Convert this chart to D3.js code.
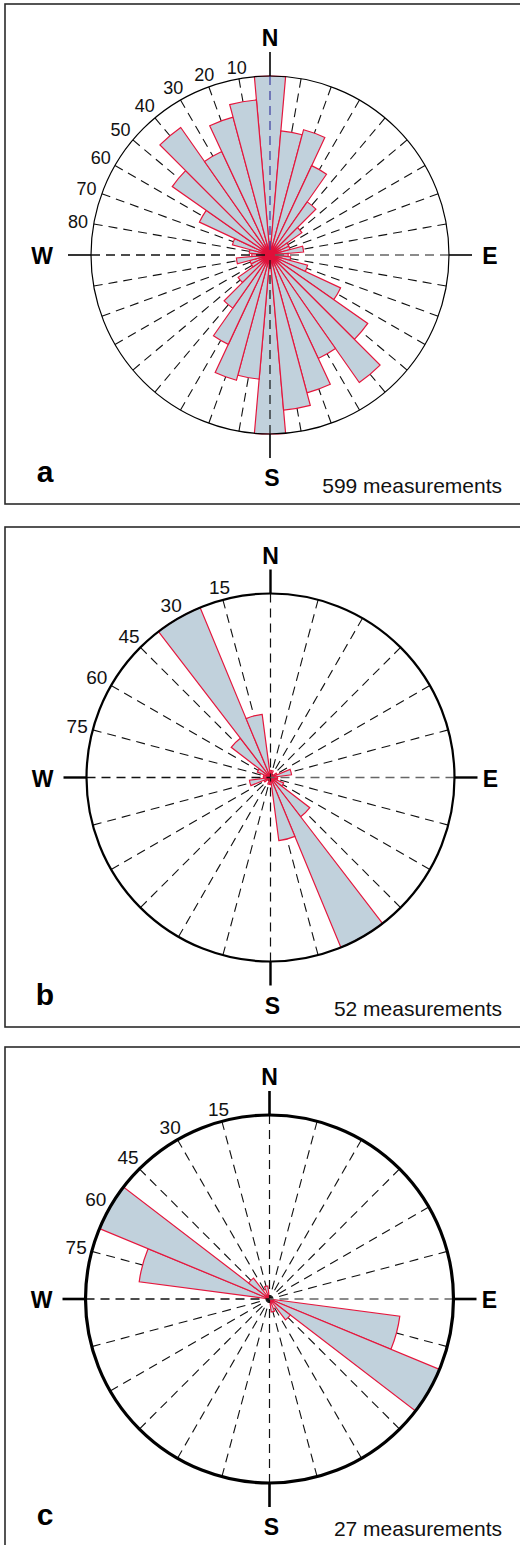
<!DOCTYPE html>
<html>
<head>
<meta charset="utf-8">
<script src="https://cdn.jsdelivr.net/npm/d3@7"></script>
<style>
  html, body { margin: 0; padding: 0; background: #fff; }
  svg { display: block; font-family: "Liberation Sans", Arial, sans-serif; }
</style>
</head>
<body>
<svg id="chart" width="520" height="1545"></svg>
<script>
// Bin centre azimuths (degrees, 0-180; each bin is also drawn at +180)
const dirA = [0, 10, 20, 30, 40, 50, 60, 70, 80, 90, 100, 110, 120, 130, 140, 150, 160, 170];
const countA = [69, 48, 50, 38, 25, 15, 8, 8, 13, 7, 8, 15, 30, 46, 60, 44, 55, 60];

const dirB = [0, 15, 30, 45, 60, 75, 90, 105, 120, 135, 150, 165];
const countB = [1, 1, 0, 0, 1, 3, 1, 1, 2, 7, 26, 9];

const dirC = [0, 15, 30, 45, 60, 75, 90, 105, 120, 135, 150, 165];
const countC = [0, 0, 0, 0, 0, 0, 0, 10, 14, 2, 0, 1];

// Labels along the NW quadrant of each rose
const ticksA = [10, 20, 30, 40, 50, 60, 70, 80];
const ticksB = [15, 30, 45, 60, 75];
const ticksC = [15, 30, 45, 60, 75];

const letters = ["a", "b", "c"];
const totals = ["599 measurements", "52 measurements", "27 measurements"];

const svg = d3.select("#chart");
const rad = Math.PI / 180;

// soft red hub where the dense petal outlines meet
const grad = svg.append("defs").append("radialGradient").attr("id", "hub");
grad.append("stop").attr("offset", "0.55").attr("stop-color", "#e0103a").attr("stop-opacity", 1);
grad.append("stop").attr("offset", "1").attr("stop-color", "#e0103a").attr("stop-opacity", 0);

const panels = [
  { dirs: dirA, counts: countA, ticks: ticksA, step: 10, top: 4,    cx: 270,   cy: 255,   R: 179, ring: 1.2, axisW: 1.6, tickFont: 18, northColor: "#3b3b9e", hub: 13 },
  { dirs: dirB, counts: countB, ticks: ticksB, step: 15, top: 527,  cx: 270.5, cy: 777.5, R: 184, ring: 2.2, axisW: 2.4, tickFont: 19, northColor: "#111", hub: 0 },
  { dirs: dirC, counts: countC, ticks: ticksC, step: 15, top: 1047, cx: 269.5, cy: 1299,  R: 184, ring: 3.2, axisW: 2.6, tickFont: 19, northColor: "#111", hub: 0 }
];

panels.forEach((p, i) => {
  const g = svg.append("g");

  // frame (right edge runs past the page)
  g.append("rect")
    .attr("x", 5).attr("y", p.top)
    .attr("width", 530).attr("height", 500)
    .attr("fill", "none").attr("stroke", "#2b2b2b").attr("stroke-width", 1.6);

  const c = g.append("g").attr("transform", `translate(${p.cx},${p.cy})`);
  const r = d3.scaleLinear().domain([0, d3.max(p.counts)]).range([0, p.R]);

  // dashed radial grid (axes drawn separately)
  const gridAngles = d3.range(0, 360, p.step).filter(a => a % 90 !== 0);
  c.selectAll("line.grid").data(gridAngles).join("line")
    .attr("class", "grid")
    .attr("x1", a => p.R * Math.sin(a * rad))
    .attr("y1", a => -p.R * Math.cos(a * rad))
    .attr("x2", 0).attr("y2", 0)
    .attr("stroke", "#111").attr("stroke-width", 1.1)
    .attr("stroke-dasharray", "9,6");

  // petals, mirrored through the centre
  const petals = [];
  p.dirs.forEach((d, k) => {
    petals.push({ az: d, n: p.counts[k] });
    petals.push({ az: d + 180, n: p.counts[k] });
  });
  const half = p.step / 2 * rad;
  const arc = d3.arc()
    .innerRadius(0)
    .outerRadius(d => r(d.n))
    .startAngle(d => d.az * rad - half)
    .endAngle(d => d.az * rad + half);
  c.selectAll("path.petal").data(petals.filter(d => d.n > 0)).join("path")
    .attr("class", "petal")
    .attr("d", arc)
    .attr("fill", "#c1d1dc")
    .attr("stroke", "#e5173d")
    .attr("stroke-width", 1.2)
    .attr("stroke-linejoin", "miter");

  if (p.hub > 0) {
    c.append("circle").attr("r", p.hub).attr("fill", "url(#hub)");
  }

  // N-S and W-E axes, dashed inside the circle
  const axes = [
    { x: 0, y: -p.R, col: p.northColor, w: 1.2 },
    { x: 0, y: p.R, col: "#111", w: 1.2 },
    { x: -p.R, y: 0, col: "#111", w: 1.3 },
    { x: p.R, y: 0, col: "#666", w: 1.6 }
  ];
  c.selectAll("line.axis").data(axes).join("line")
    .attr("class", "axis")
    .attr("x1", d => d.x).attr("y1", d => d.y)
    .attr("x2", 0).attr("y2", 0)
    .attr("stroke", d => d.col).attr("stroke-width", d => d.w)
    .attr("stroke-dasharray", "9,6");

  // outer circle
  c.append("circle").attr("r", p.R)
    .attr("fill", "none").attr("stroke", "#000").attr("stroke-width", p.ring);

  // solid compass ticks outside the circle
  const ext = [
    [0, -p.R, 0, -p.R - 24],
    [0, p.R, 0, p.R + 24],
    [-p.R, 0, -p.R - 23, 0],
    [p.R, 0, p.R + 23, 0]
  ];
  c.selectAll("line.ext").data(ext).join("line")
    .attr("class", "ext")
    .attr("x1", d => d[0]).attr("y1", d => d[1])
    .attr("x2", d => d[2]).attr("y2", d => d[3])
    .attr("stroke", "#000").attr("stroke-width", p.axisW);

  // compass letters
  const comp = [
    { t: "N", x: 0, y: -p.R - 30 },
    { t: "S", x: 2, y: p.R + 52 },
    { t: "W", x: -228, y: 9 },
    { t: "E", x: 220, y: 9 }
  ];
  c.selectAll("text.comp").data(comp).join("text")
    .attr("class", "comp")
    .attr("x", d => d.x).attr("y", d => d.y)
    .attr("text-anchor", "middle")
    .attr("font-size", 23).attr("font-weight", "bold")
    .attr("fill", "#000")
    .text(d => d.t);

  // angle labels outside the circle, counted from N towards W
  c.selectAll("text.tick").data(p.ticks).join("text")
    .attr("class", "tick")
    .attr("transform", v => {
      const a = (360 - v) * rad;
      const off = 4 + 11 * Math.abs(Math.sin(a)) + 6 * Math.abs(Math.cos(a));
      const rr = p.R + off;
      return `translate(${rr * Math.sin(a)},${-rr * Math.cos(a)})`;
    })
    .attr("text-anchor", "middle")
    .attr("dy", "0.36em")
    .attr("font-size", p.tickFont)
    .attr("fill", "#111")
    .text(v => v);

  // panel letter and sample size
  g.append("text")
    .attr("x", 45).attr("y", p.top + 478)
    .attr("text-anchor", "middle")
    .attr("font-size", 30).attr("font-weight", "bold")
    .text(letters[i]);
  g.append("text")
    .attr("x", 502).attr("y", p.top + 489)
    .attr("text-anchor", "end")
    .attr("font-size", 21)
    .attr("fill", "#111")
    .text(totals[i]);
});
</script>
</body>
</html>
